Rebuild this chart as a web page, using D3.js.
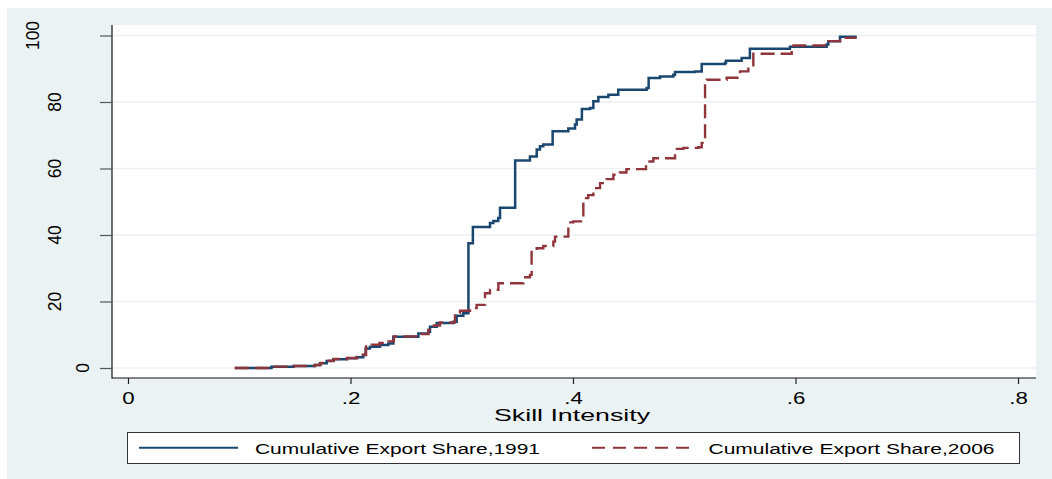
<!DOCTYPE html>
<html>
<head>
<meta charset="utf-8">
<script src="https://cdn.jsdelivr.net/npm/d3@7/dist/d3.min.js"></script>
<style>
  html, body { margin: 0; padding: 0; background: #ffffff; }
  svg { display: block; }
  text { font-family: "Liberation Sans", Arial, Helvetica, sans-serif; fill: #000; }
</style>
</head>
<body>
<svg id="chart" width="1052" height="479"></svg>
<script>
// Cumulative export share by skill intensity (step breakpoints: value holds until next x)
const skill1991 = [0.096, 0.129, 0.149, 0.168, 0.1726, 0.1786, 0.1846, 0.1966, 0.2055, 0.2115, 0.2136, 0.2175, 0.2265, 0.234, 0.2385, 0.261, 0.27, 0.2715, 0.2775, 0.2924, 0.2954, 0.3014, 0.306, 0.310, 0.3254, 0.3284, 0.3328, 0.3344, 0.348, 0.3613, 0.3674, 0.3703, 0.3733, 0.3817, 0.3958, 0.4018, 0.4033, 0.408, 0.4153, 0.4183, 0.4228, 0.4318, 0.4407, 0.4662, 0.468, 0.4782, 0.4902, 0.4917, 0.5097, 0.5157, 0.5366, 0.5375, 0.5516, 0.559, 0.595, 0.628, 0.6295, 0.64, 0.655];
const share1991 = [0, 0.4, 0.6, 0.9, 1.4, 2.1, 2.6, 2.9, 3.2, 3.9, 5.9, 6.4, 6.9, 7.4, 9.4, 10.4, 10.9, 12.4, 13.5, 13.9, 15.7, 16.5, 37.5, 42.4, 43.6, 44.2, 45.1, 48.2, 62.4, 63.6, 65.7, 66.7, 67.2, 71.2, 72.0, 73.2, 74.7, 77.9, 78.2, 80.2, 81.5, 82.2, 83.7, 84.2, 87.2, 87.7, 88.2, 89.0, 89.2, 91.4, 91.7, 92.4, 93.2, 96.0, 96.6, 97.3, 98.3, 99.6, 99.6];

const skill2006 = [0.096, 0.129, 0.149, 0.168, 0.173, 0.179, 0.185, 0.197, 0.206, 0.211, 0.214, 0.219, 0.226, 0.234, 0.239, 0.26, 0.27, 0.275, 0.2804, 0.2939, 0.2984, 0.3074, 0.3134, 0.3209, 0.3254, 0.3329, 0.3553, 0.3613, 0.3628, 0.3674, 0.3733, 0.3823, 0.3838, 0.3958, 0.4003, 0.4093, 0.4137, 0.4183, 0.4243, 0.4303, 0.4363, 0.4422, 0.448, 0.4656, 0.4722, 0.4917, 0.4992, 0.5127, 0.5157, 0.5187, 0.5201, 0.5381, 0.5501, 0.5576, 0.5621, 0.5966, 0.628, 0.63, 0.64, 0.655];
const share2006 = [0, 0.4, 0.6, 0.9, 1.5, 2.2, 2.7, 3.0, 3.3, 4.0, 6.9, 7.0, 7.5, 8.0, 9.5, 10.2, 11.5, 12.8, 13.7, 16.5, 17.2, 18.0, 19.0, 22.5, 23.5, 25.5, 27.3, 28.0, 35.5, 36.0, 36.7, 38.0, 39.5, 43.8, 44.1, 51.1, 52.0, 54.1, 55.6, 56.8, 58.1, 58.8, 59.8, 62.1, 63.1, 65.9, 66.2, 66.4, 67.7, 85.8, 86.7, 87.3, 89.2, 90.5, 94.5, 97.0, 97.3, 98.3, 99.3, 99.3];

const xTickValues = [0, 0.2, 0.4, 0.6, 0.8];
const xTickLabels = ["0", ".2", ".4", ".6", ".8"];
const yTickValues = [0, 20, 40, 60, 80, 100];
const yTickLabels = ["0", "20", "40", "60", "80", "100"];
const seriesNames = ["Cumulative Export Share,1991", "Cumulative Export Share,2006"];
const xTitle = "Skill Intensity";

const svg = d3.select("#chart");
const W = 1052, H = 479;
const bg = "#eaf2f3";
const blue = "#1a476f";
const red = "#90353b";

// plot region
const plot = { left: 112, right: 1036, top: 25, bottom: 378 };

const x = d3.scaleLinear().domain([0, 0.8]).range([128, 1018]);
const y = d3.scaleLinear().domain([0, 100]).range([368, 35.5]);

// graph region background
svg.append("rect").attr("x", 7).attr("y", 8).attr("width", W - 7).attr("height", H - 8).attr("fill", bg);
svg.append("rect")
  .attr("x", plot.left).attr("y", plot.top)
  .attr("width", plot.right - plot.left).attr("height", plot.bottom - plot.top)
  .attr("fill", "#ffffff");

// horizontal gridlines
svg.append("g").selectAll("line").data(yTickValues).join("line")
  .attr("x1", plot.left).attr("x2", plot.right)
  .attr("y1", d => y(d)).attr("y2", d => y(d))
  .attr("stroke", bg).attr("stroke-width", 1.6);

// series lines
const line = d3.line().curve(d3.curveStepAfter).x(d => x(d[0])).y(d => y(d[1]));
const data1991 = skill1991.map((v, i) => [v, share1991[i]]);
const data2006 = skill2006.map((v, i) => [v, share2006[i]]);

svg.append("path").datum(data1991)
  .attr("d", line).attr("fill", "none")
  .attr("stroke", blue).attr("stroke-width", 2.5).attr("stroke-linejoin", "miter");
svg.append("path").datum(data2006)
  .attr("d", line).attr("fill", "none")
  .attr("stroke", red).attr("stroke-width", 2.4).attr("stroke-dasharray", "14,6");

// axis lines
svg.append("line").attr("x1", plot.left).attr("x2", plot.left)
  .attr("y1", plot.top).attr("y2", plot.bottom + 0.5)
  .attr("stroke", "#111").attr("stroke-width", 1.2);
svg.append("line").attr("x1", plot.left).attr("x2", plot.right)
  .attr("y1", plot.bottom).attr("y2", plot.bottom)
  .attr("stroke", "#111").attr("stroke-width", 1.2);

// x axis ticks and labels
const xAxis = d3.axisBottom(x).tickValues(xTickValues)
  .tickFormat((d, i) => xTickLabels[i]).tickSize(6).tickPadding(10);
const gx = svg.append("g").attr("transform", `translate(0,${plot.bottom})`).call(xAxis);
gx.select(".domain").remove();
gx.selectAll(".tick line").attr("stroke", "#222").attr("stroke-width", 1.2);
gx.selectAll(".tick text")
  .attr("y", 26).attr("dy", null)
  .style("font-size", "16.5px")
  .attr("fill", "#000")
  .attr("transform", "scale(1.35,1)");

// y axis ticks and rotated labels
const yAxis = d3.axisLeft(y).tickValues(yTickValues).tickFormat("").tickSize(12);
const gy = svg.append("g").attr("transform", `translate(${plot.left},0)`).call(yAxis);
gy.select(".domain").remove();
gy.selectAll(".tick line").attr("stroke", "#555").attr("stroke-width", 1.2);

const yLabelX = { 1: 83, 2: 55, 3: 32.5 };
svg.append("g").selectAll("text").data(yTickValues).join("text")
  .attr("transform", (d, i) => `translate(${yLabelX[yTickLabels[i].length]},${y(d)}) rotate(-90)`)
  .attr("text-anchor", "middle")
  .attr("dy", "0.36em")
  .style("font-size", "17.5px")
  .text((d, i) => yTickLabels[i]);

// x axis title
svg.append("text")
  .attr("x", 572).attr("y", 420.5)
  .attr("text-anchor", "middle")
  .attr("textLength", 156).attr("lengthAdjust", "spacingAndGlyphs")
  .style("font-size", "17px")
  .text(xTitle);

// legend
const lg = svg.append("g");
lg.append("rect").attr("x", 127.5).attr("y", 432.5).attr("width", 892).attr("height", 31)
  .attr("fill", "#ffffff").attr("stroke", "#333").attr("stroke-width", 1);
lg.append("line").attr("x1", 139).attr("x2", 238).attr("y1", 447.7).attr("y2", 447.7)
  .attr("stroke", blue).attr("stroke-width", 2);
lg.append("line").attr("x1", 592).attr("x2", 693).attr("y1", 447.7).attr("y2", 447.7)
  .attr("stroke", red).attr("stroke-width", 2).attr("stroke-dasharray", "13,8");
lg.append("text").attr("x", 255).attr("y", 453.5)
  .attr("textLength", 285).attr("lengthAdjust", "spacingAndGlyphs")
  .style("font-size", "15.5px").text(seriesNames[0]);
lg.append("text").attr("x", 708.5).attr("y", 453.5)
  .attr("textLength", 286).attr("lengthAdjust", "spacingAndGlyphs")
  .style("font-size", "15.5px").text(seriesNames[1]);
</script>
</body>
</html>
